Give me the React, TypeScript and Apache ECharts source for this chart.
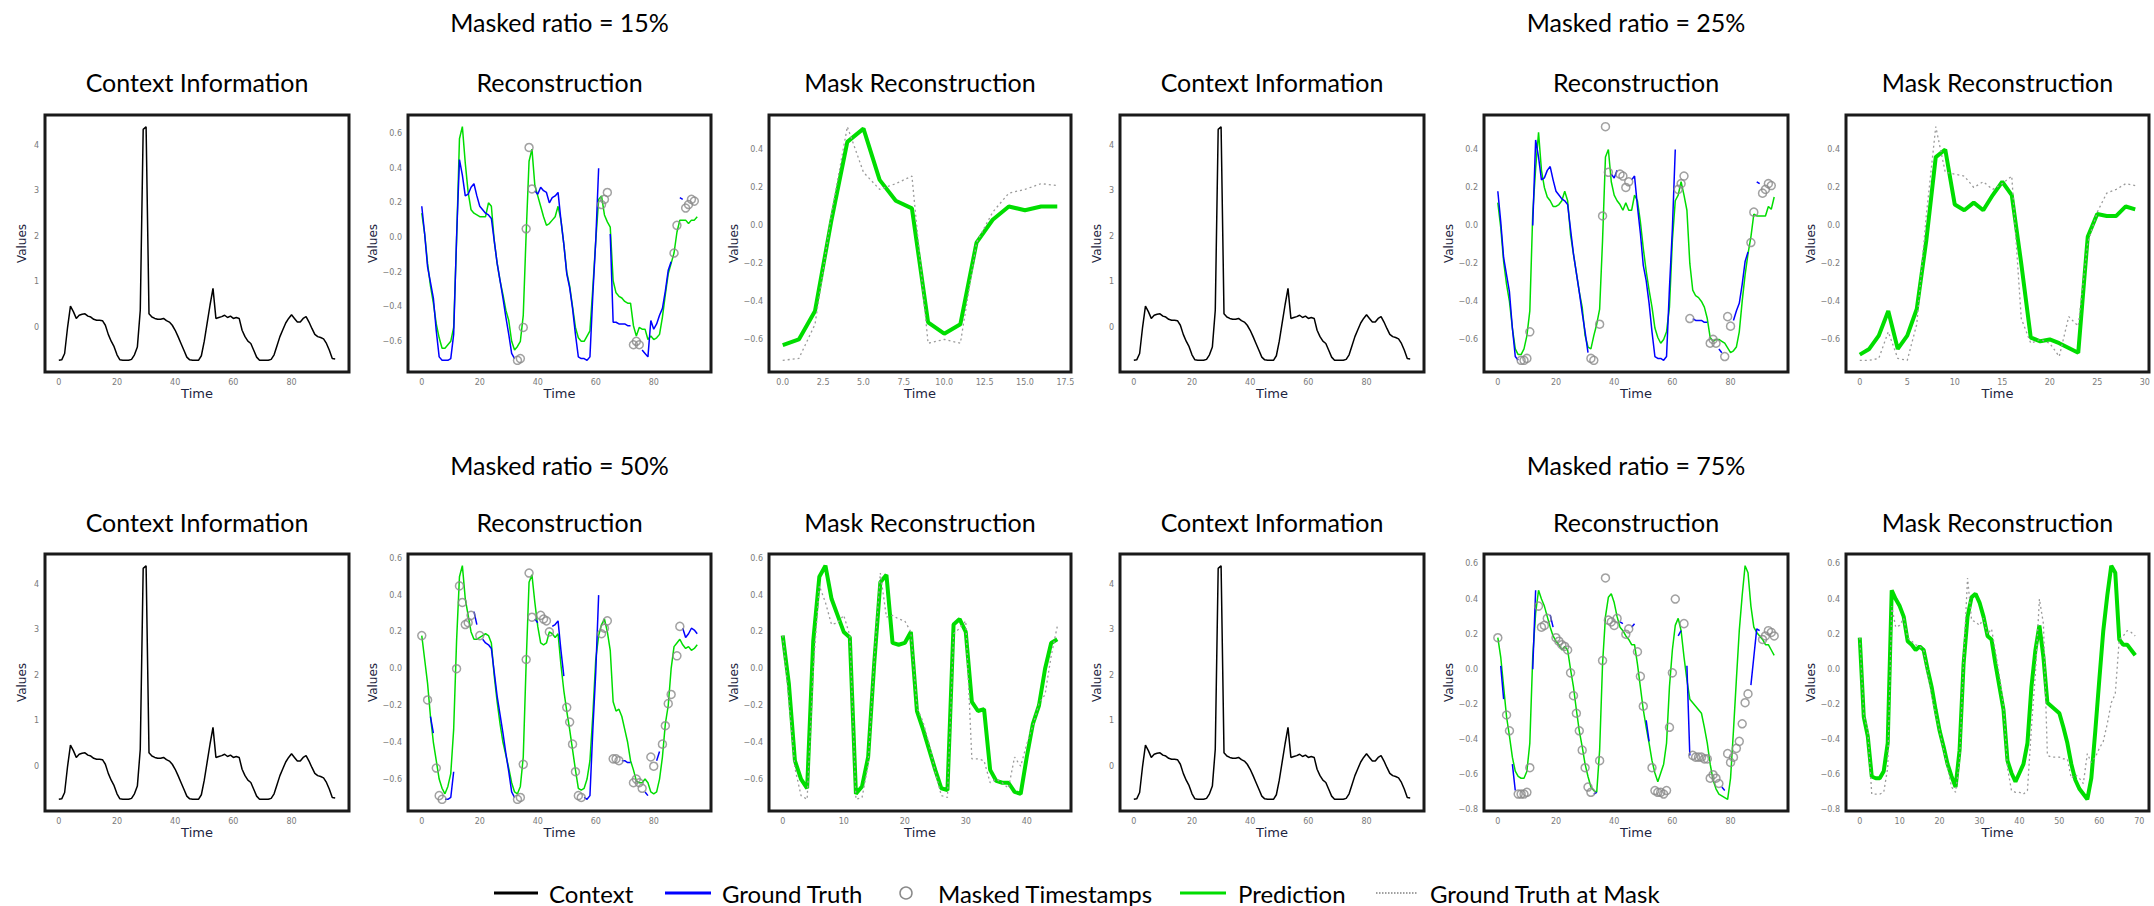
import React, { useEffect, useRef } from 'react';
import * as echarts from 'echarts';

// ---------------- data ----------------
const RATIO_LABELS = ['Masked ratio = 15%', 'Masked ratio = 25%', 'Masked ratio = 50%', 'Masked ratio = 75%'];
const PANEL_TITLES = ['Context Information', 'Reconstruction', 'Mask Reconstruction'];
const LEGEND_LABELS = ['Context', 'Ground Truth', 'Masked Timestamps', 'Prediction', 'Ground Truth at Mask'];

const CONTEXT = [
  -0.72, -0.71, -0.57, 0.0, 0.47, 0.35, 0.2, 0.27, 0.29, 0.3,
  0.25, 0.23, 0.18, 0.16, 0.16, 0.15, 0.05, -0.15, -0.3, -0.42,
  -0.6, -0.71, -0.72, -0.72, -0.72, -0.7, -0.6, -0.43, 0.38, 4.35,
  4.41, 0.3, 0.23, 0.2, 0.18, 0.18, 0.2, 0.15, 0.12, 0.05,
  -0.06, -0.2, -0.35, -0.5, -0.65, -0.71, -0.72, -0.72, -0.72, -0.62,
  -0.3, 0.1, 0.5, 0.86, 0.2, 0.22, 0.24, 0.27, 0.22, 0.25,
  0.2, 0.22, 0.2, -0.06, -0.2, -0.3, -0.35, -0.5, -0.65, -0.72,
  -0.72, -0.72, -0.72, -0.7, -0.6, -0.4, -0.2, -0.05, 0.1, 0.2,
  0.28, 0.2, 0.12, 0.12, 0.2, 0.24, 0.12, -0.02, -0.15, -0.2,
  -0.22, -0.25, -0.35, -0.5, -0.68, -0.69,
];

const GROUND_TRUTH = [
  0.18, 0.02, -0.17, -0.26, -0.35, -0.54, -0.69, -0.71, -0.71, -0.71,
  -0.7, -0.56, 0.0, 0.45, 0.36, 0.24, 0.25, 0.29, 0.31, 0.24,
  0.18, 0.16, 0.14, 0.13, 0.11, -0.02, -0.15, -0.25, -0.35, -0.46,
  -0.56, -0.67, -0.7, -0.71, -0.7, -0.52, 0.05, 0.52, 0.28, 0.27,
  0.25, 0.29, 0.27, 0.26, 0.2, 0.23, 0.24, 0.26, 0.1, -0.04,
  -0.21, -0.29, -0.41, -0.56, -0.69, -0.7, -0.7, -0.71, -0.69, -0.33,
  -0.02, 0.4, 0.19, 0.22, 0.26, 0.02, -0.49, -0.49, -0.5, -0.5,
  -0.5, -0.51, -0.51, -0.62, -0.6, -0.62, -0.65, -0.67, -0.69, -0.48,
  -0.53, -0.5, -0.45, -0.41, -0.31, -0.19, -0.14, -0.09, 0.07, 0.23,
  0.22, 0.17, 0.19, 0.22, 0.21, 0.19,
];

const PRED_15 = [
  0.14, 0.02, -0.15, -0.28, -0.38, -0.5, -0.58, -0.64, -0.64, -0.62,
  -0.6, -0.52, -0.02, 0.57, 0.64, 0.43, 0.26, 0.16, 0.14, 0.13,
  0.12, 0.12, 0.12, 0.2, 0.18, -0.02, -0.15, -0.25, -0.33, -0.42,
  -0.48, -0.6, -0.65, -0.63, -0.6, -0.45, 0.02, 0.44, 0.51, 0.3,
  0.24, 0.18, 0.12, 0.07, 0.08, 0.1, 0.12, 0.18, 0.1, -0.04,
  -0.2, -0.28, -0.4, -0.52, -0.58, -0.6, -0.6, -0.57, -0.54, -0.29,
  -0.02, 0.22, 0.24, 0.13, 0.09, 0.06, -0.25, -0.32, -0.34, -0.35,
  -0.37, -0.38, -0.38, -0.51, -0.57, -0.52, -0.53, -0.53, -0.59, -0.57,
  -0.59, -0.58, -0.56, -0.46, -0.33, -0.21, -0.15, -0.09, 0.03, 0.1,
  0.1, 0.1, 0.08, 0.1, 0.1, 0.12,
];

const PRED_25 = [
  0.12, -0.01, -0.19, -0.31, -0.4, -0.54, -0.65, -0.68, -0.68, -0.65,
  -0.58, -0.45, 0.06, 0.3, 0.49, 0.29, 0.2, 0.15, 0.13, 0.1,
  0.1, 0.11, 0.13, 0.18, 0.13, -0.05, -0.15, -0.25, -0.35, -0.43,
  -0.58, -0.64, -0.65, -0.58, -0.52, -0.44, -0.08, 0.36, 0.4, 0.23,
  0.16, 0.13, 0.11, 0.08, 0.12, 0.08, 0.08, 0.16, 0.13, 0.02,
  -0.12, -0.24, -0.34, -0.43, -0.54, -0.59, -0.62, -0.6, -0.56, -0.43,
  -0.08, 0.13, 0.16, 0.23, 0.16, 0.08, -0.2, -0.34, -0.37, -0.38,
  -0.4, -0.43, -0.49, -0.59, -0.61, -0.6, -0.6, -0.61, -0.62, -0.645,
  -0.67, -0.66, -0.64, -0.56, -0.4, -0.26, -0.15, -0.06, 0.06, 0.05,
  0.05, 0.05, 0.05, 0.1, 0.085, 0.15,
];

const PRED_50 = [
  0.18, 0.05, -0.08, -0.26, -0.4, -0.5, -0.6, -0.65, -0.68, -0.64,
  -0.57, -0.33, 0.15, 0.5, 0.56, 0.38, 0.29, 0.2, 0.16, 0.16,
  0.17, 0.18, 0.19, 0.18, 0.14, -0.04, -0.18, -0.3, -0.4, -0.47,
  -0.54, -0.62, -0.67, -0.68, -0.64, -0.48, 0.03, 0.47, 0.51, 0.36,
  0.23, 0.14, 0.13, 0.14, 0.2, 0.19, 0.17, 0.19, 0.02, -0.12,
  -0.23, -0.33, -0.44, -0.55, -0.65, -0.66, -0.65, -0.6, -0.5, -0.25,
  0.05, 0.18, 0.24, 0.27, 0.2, 0.1, -0.18, -0.23, -0.22, -0.26,
  -0.33, -0.4, -0.5, -0.55, -0.61, -0.62, -0.62, -0.6, -0.62, -0.67,
  -0.68, -0.67, -0.6, -0.48, -0.3, -0.2, 0.0, 0.12, 0.14, 0.16,
  0.13, 0.11, 0.12, 0.1, 0.11, 0.13,
];

const PRED_75 = [
  0.18, 0.07, -0.1, -0.27, -0.38, -0.5, -0.58, -0.61, -0.62, -0.62,
  -0.58, -0.42, 0.07, 0.32, 0.45, 0.4, 0.36, 0.3, 0.24, 0.19,
  0.16, 0.14, 0.11, 0.13, 0.11, 0.0, -0.1, -0.23, -0.35, -0.44,
  -0.54, -0.61, -0.67, -0.69, -0.7, -0.46, 0.03, 0.3, 0.41, 0.43,
  0.38, 0.3, 0.24, 0.22, 0.19, 0.17, 0.14, 0.14, 0.03, -0.1,
  -0.23, -0.33, -0.42, -0.52, -0.59, -0.64, -0.59, -0.54, -0.42, -0.1,
  0.11, 0.25, 0.29, 0.22, 0.07, -0.06, -0.17, -0.19, -0.21, -0.23,
  -0.25, -0.33, -0.42, -0.54, -0.63, -0.68, -0.71, -0.72, -0.73, -0.74,
  -0.62, -0.35, -0.06, 0.22, 0.42, 0.59, 0.55, 0.36, 0.24, 0.21,
  0.19, 0.17, 0.14, 0.14, 0.11, 0.08,
];

const MASK_15 = [33, 34, 35, 36, 37, 38, 62, 63, 64, 73, 74, 75, 87, 88, 91, 92, 93, 94];
const MASK_25 = [8, 9, 10, 11, 32, 33, 35, 36, 37, 38, 42, 43, 44, 45, 62, 63, 64, 66, 73, 74, 75, 78, 79, 80, 87, 88, 91, 92, 93, 94];
const MASK_50 = [0, 2, 5, 6, 7, 12, 13, 14, 15, 16, 17, 20, 33, 34, 35, 36, 37, 38, 41, 42, 43, 44, 50, 51, 52, 53, 54, 55, 62, 63, 64, 66, 67, 68, 73, 74, 75, 76, 79, 80, 83, 84, 85, 86, 88, 89];
const MASK_75 = [0, 3, 4, 7, 8, 9, 10, 11, 14, 15, 16, 17, 20, 21, 22, 23, 24, 25, 26, 27, 28, 29, 30, 31, 32, 35, 36, 37, 38, 39, 40, 41, 44, 45, 48, 49, 50, 53, 54, 55, 56, 57, 58, 59, 60, 61, 64, 67, 68, 69, 70, 71, 72, 73, 74, 75, 76, 79, 80, 81, 82, 83, 84, 85, 86, 91, 92, 93, 94, 95];

const CONTEXT_Y_TICKS = [0, 1, 2, 3, 4];
const TIME_TICKS = [0, 20, 40, 60, 80];
const RECON_Y_TICKS_15 = [-0.6, -0.4, -0.2, 0, 0.2, 0.4, 0.6];
const RECON_Y_TICKS_25 = [-0.6, -0.4, -0.2, 0, 0.2, 0.4];
const RECON_Y_TICKS_50 = [-0.6, -0.4, -0.2, 0, 0.2, 0.4, 0.6];
const RECON_Y_TICKS_75 = [-0.8, -0.6, -0.4, -0.2, 0, 0.2, 0.4, 0.6];
const MASK_X_TICKS_15 = [0, 2.5, 5, 7.5, 10, 12.5, 15, 17.5];
const MASK_X_TICKS_25 = [0, 5, 10, 15, 20, 25, 30];
const MASK_X_TICKS_50 = [0, 10, 20, 30, 40];
const MASK_X_TICKS_75 = [0, 10, 20, 30, 40, 50, 60, 70];
const MASK_Y_TICKS_15 = [-0.6, -0.4, -0.2, 0, 0.2, 0.4];
const MASK_Y_TICKS_25 = [-0.6, -0.4, -0.2, 0, 0.2, 0.4];
const MASK_Y_TICKS_50 = [-0.6, -0.4, -0.2, 0, 0.2, 0.4, 0.6];
const MASK_Y_TICKS_75 = [-0.8, -0.6, -0.4, -0.2, 0, 0.2, 0.4, 0.6];

// ---------------- layout / style ----------------
const PANEL_LEFTS = [45, 408, 769, 1120, 1484, 1846];
const PANEL_WIDTHS = [304, 303, 302, 304, 304, 303];
const ROW_TOPS = [115, 554];
const PANEL_HEIGHT = 257;
const RATIO_TITLE_Y = [22, 465];
const PANEL_TITLE_Y = [82, 522];
const LEGEND_Y = 893;

const GREEN = '#00dd00';
const BLUE = '#0000ff';
const TITLE_FONT = 'Lato, "Noto Sans", sans-serif';
const AXIS_FONT = '"DejaVu Sans", sans-serif';

const RUNS = [
  { pred: PRED_15, mask: MASK_15, reconY: RECON_Y_TICKS_15, maskX: MASK_X_TICKS_15, maskXDec: 1, maskY: MASK_Y_TICKS_15 },
  { pred: PRED_25, mask: MASK_25, reconY: RECON_Y_TICKS_25, maskX: MASK_X_TICKS_25, maskXDec: 0, maskY: MASK_Y_TICKS_25 },
  { pred: PRED_50, mask: MASK_50, reconY: RECON_Y_TICKS_50, maskX: MASK_X_TICKS_50, maskXDec: 0, maskY: MASK_Y_TICKS_50 },
  { pred: PRED_75, mask: MASK_75, reconY: RECON_Y_TICKS_75, maskX: MASK_X_TICKS_75, maskXDec: 0, maskY: MASK_Y_TICKS_75 },
];

const fmt = (d: number) => (v: number) => (v < -1e-9 ? '\u2212' : '') + Math.abs(v).toFixed(d);
const padMin = (e: any) => e.min - 0.05 * (e.max - e.min);
const padMax = (e: any) => e.max + 0.05 * (e.max - e.min);

function axis(gridIndex: number, ticks: number[], dec: number, name: string, nameGap: number, isY: boolean) {
  return {
    type: 'value',
    gridIndex,
    min: padMin,
    max: padMax,
    name,
    nameLocation: 'middle',
    nameGap,
    nameTextStyle: { fontSize: isY ? 12 : 13, color: '#1d2540', fontFamily: AXIS_FONT },
    axisLine: { show: false },
    axisTick: { show: false, customValues: ticks },
    splitLine: { show: false },
    axisLabel: {
      customValues: ticks,
      formatter: fmt(dec),
      fontSize: 8,
      color: '#7a7a7a',
      fontFamily: AXIS_FONT,
      margin: 6,
    },
  };
}

function buildOption() {
  const grids: any[] = [];
  const xAxes: any[] = [];
  const yAxes: any[] = [];
  const series: any[] = [];
  const graphics: any[] = [];

  RUNS.forEach((run, r) => {
    const row = r < 2 ? 0 : 1;
    const colBase = (r % 2) * 3;
    for (let p = 0; p < 3; p++) {
      const col = colBase + p;
      const g = r * 3 + p;
      grids.push({
        left: PANEL_LEFTS[col],
        top: ROW_TOPS[row],
        width: PANEL_WIDTHS[col],
        height: PANEL_HEIGHT,
        show: true,
        borderColor: '#1a1a1a',
        borderWidth: 3,
        backgroundColor: 'transparent',
        containLabel: false,
      });
      graphics.push({
        type: 'text',
        x: PANEL_LEFTS[col] + PANEL_WIDTHS[col] / 2,
        y: PANEL_TITLE_Y[row],
        style: {
          text: PANEL_TITLES[p],
          font: `25px ${TITLE_FONT}`,
          fill: '#000',
          align: 'center',
          verticalAlign: 'middle',
          textAlign: 'center',
          textVerticalAlign: 'middle',
        },
      });
    }
    // Context panel
    xAxes.push(axis(r * 3, TIME_TICKS, 0, 'Time', 14, false));
    yAxes.push(axis(r * 3, CONTEXT_Y_TICKS, 0, 'Values', 17, true));
    series.push({
      type: 'line', name: 'Context', xAxisIndex: r * 3, yAxisIndex: r * 3,
      data: CONTEXT.map((v, i) => [i, v]), symbol: 'none',
      lineStyle: { color: '#000', width: 1.5 }, itemStyle: { color: '#000' }, silent: true,
    });
    // Reconstruction panel
    xAxes.push(axis(r * 3 + 1, TIME_TICKS, 0, 'Time', 14, false));
    yAxes.push(axis(r * 3 + 1, run.reconY, 1, 'Values', 28, true));
    series.push({
      type: 'line', name: 'Prediction', xAxisIndex: r * 3 + 1, yAxisIndex: r * 3 + 1,
      data: run.pred.map((v, i) => [i, v]), symbol: 'none',
      lineStyle: { color: GREEN, width: 1.5 }, itemStyle: { color: GREEN }, silent: true, z: 2,
    });
    series.push({
      type: 'line', name: 'Ground Truth', xAxisIndex: r * 3 + 1, yAxisIndex: r * 3 + 1,
      data: GROUND_TRUTH.map((v, i) => [i, run.mask.includes(i) ? '-' : v]), symbol: 'none',
      connectNulls: false,
      lineStyle: { color: BLUE, width: 1.5 }, itemStyle: { color: BLUE }, silent: true, z: 3,
    });
    series.push({
      type: 'scatter', name: 'Masked Timestamps', xAxisIndex: r * 3 + 1, yAxisIndex: r * 3 + 1,
      data: run.mask.map((t) => [t, GROUND_TRUTH[t]]), symbol: 'circle', symbolSize: 8,
      itemStyle: { color: 'rgba(0,0,0,0)', borderColor: '#8a8a8a', borderWidth: 1.5 }, silent: true, z: 4,
    });
    // Mask reconstruction panel
    xAxes.push(axis(r * 3 + 2, run.maskX, run.maskXDec, 'Time', 14, false));
    yAxes.push(axis(r * 3 + 2, run.maskY, 1, 'Values', 28, true));
    series.push({
      type: 'line', name: 'Prediction', xAxisIndex: r * 3 + 2, yAxisIndex: r * 3 + 2,
      data: run.mask.map((t, k) => [k, run.pred[t]]), symbol: 'none',
      lineStyle: { color: GREEN, width: 4 }, itemStyle: { color: GREEN }, silent: true, z: 2,
    });
    series.push({
      type: 'line', name: 'Ground Truth at Mask', xAxisIndex: r * 3 + 2, yAxisIndex: r * 3 + 2,
      data: run.mask.map((t, k) => [k, GROUND_TRUTH[t]]), symbol: 'none',
      lineStyle: { color: '#9a9a9a', width: 1.3, type: [2, 3] }, itemStyle: { color: '#9a9a9a' }, silent: true, z: 3,
    });

    const reconCol = colBase + 1;
    graphics.push({
      type: 'text',
      x: PANEL_LEFTS[reconCol] + PANEL_WIDTHS[reconCol] / 2,
      y: RATIO_TITLE_Y[row],
      style: {
        text: RATIO_LABELS[r],
        font: `25px ${TITLE_FONT}`,
        fill: '#000',
        align: 'center',
        verticalAlign: 'middle',
        textAlign: 'center',
        textVerticalAlign: 'middle',
      },
    });
  });

  // Legend (drawn as graphic elements)
  const legendIcons = [
    { kind: 'line', x1: 494, x2: 538, color: '#000', dash: null, tx: 549 },
    { kind: 'line', x1: 665, x2: 711, color: BLUE, dash: null, tx: 722 },
    { kind: 'circle', cx: 906, color: '#8a8a8a', tx: 938 },
    { kind: 'line', x1: 1180, x2: 1226, color: GREEN, dash: null, tx: 1238 },
    { kind: 'line', x1: 1376, x2: 1418, color: '#a0a0a0', dash: [1.5, 1.5], tx: 1430 },
  ];
  legendIcons.forEach((it: any, k) => {
    if (it.kind === 'line') {
      graphics.push({
        type: 'line',
        shape: { x1: it.x1, y1: LEGEND_Y, x2: it.x2, y2: LEGEND_Y },
        style: { stroke: it.color, lineWidth: it.dash ? 2 : 3, lineDash: it.dash || undefined },
      });
    } else {
      graphics.push({
        type: 'circle',
        shape: { cx: it.cx, cy: LEGEND_Y, r: 6 },
        style: { fill: 'none', stroke: it.color, lineWidth: 1.5 },
      });
    }
    graphics.push({
      type: 'text',
      x: it.tx,
      y: LEGEND_Y,
      style: {
        text: LEGEND_LABELS[k],
        font: `24px ${TITLE_FONT}`,
        fill: '#000',
        align: 'left',
        verticalAlign: 'middle',
        textAlign: 'left',
        textVerticalAlign: 'middle',
      },
    });
  });

  return {
    animation: false,
    backgroundColor: '#ffffff',
    grid: grids,
    xAxis: xAxes,
    yAxis: yAxes,
    series,
    graphic: graphics,
  };
}

export default function App() {
  const ref = useRef<HTMLDivElement>(null);
  useEffect(() => {
    document.body.style.margin = '0';
    const chart = echarts.init(ref.current as HTMLDivElement, null, { renderer: 'svg' });
    chart.setOption(buildOption() as any);
    return () => chart.dispose();
  }, []);
  return <div ref={ref} style={{ width: 2154, height: 906 }} />;
}
